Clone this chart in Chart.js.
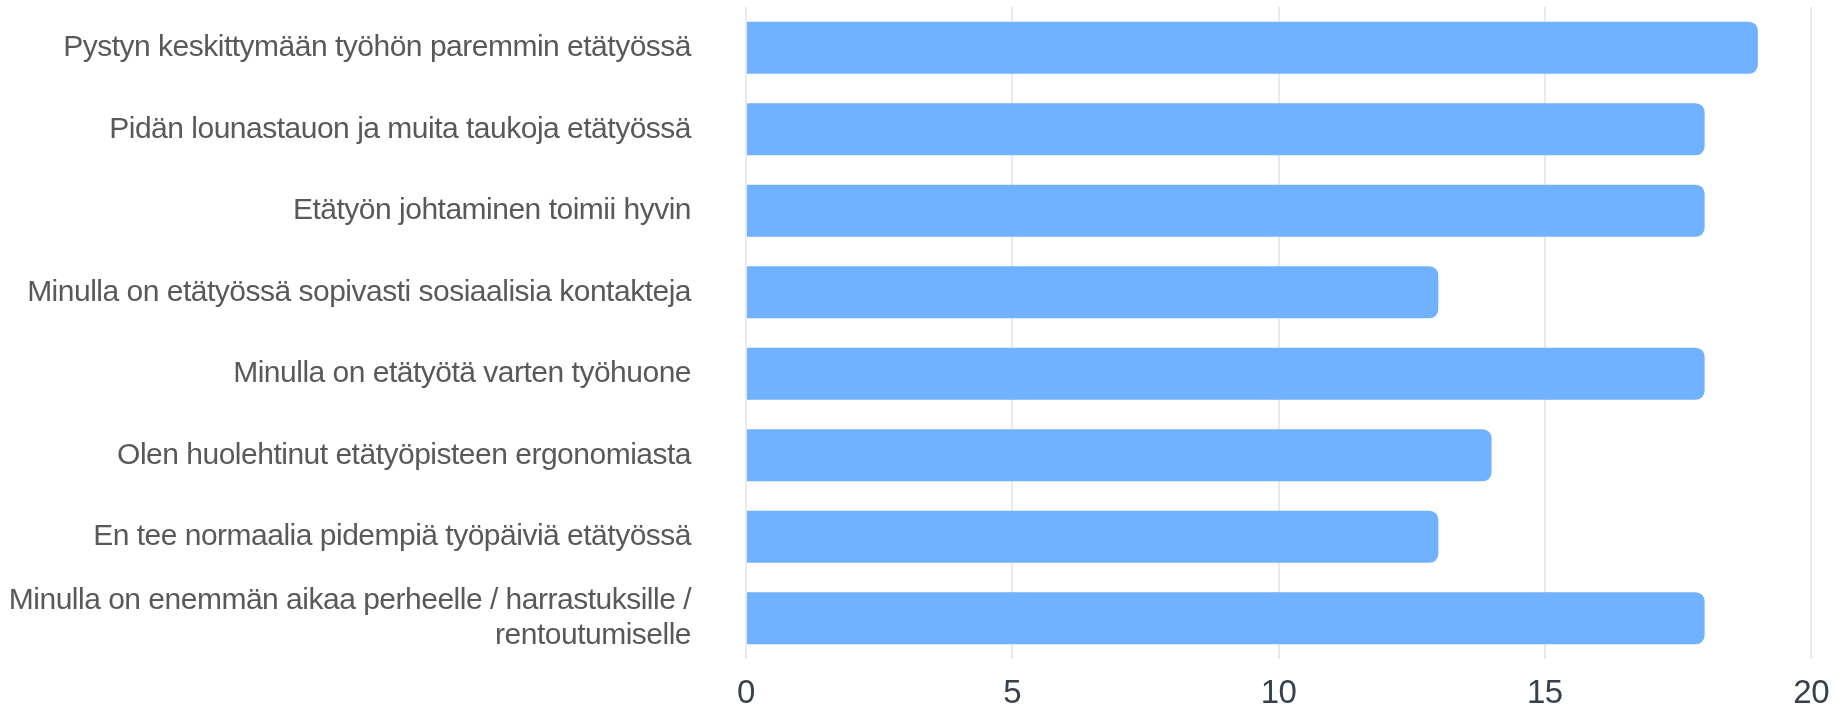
<!DOCTYPE html>
<html>
<head>
<meta charset="utf-8">
<script src="https://cdn.jsdelivr.net/npm/chart.js@4"></script>
<style>
  html, body { margin: 0; padding: 0; background: #fff; }
  #wrap { width: 1844px; height: 709px; position: relative; }
</style>
</head>
<body>
<div id="wrap"><canvas id="chart"></canvas></div>
<script>
// väittämät (y-akseli)
const labels = [
  'Pystyn keskittymään työhön paremmin etätyössä',
  'Pidän lounastauon ja muita taukoja etätyössä',
  'Etätyön johtaminen toimii hyvin',
  'Minulla on etätyössä sopivasti sosiaalisia kontakteja',
  'Minulla on etätyötä varten työhuone',
  'Olen huolehtinut etätyöpisteen ergonomiasta',
  'En tee normaalia pidempiä työpäiviä etätyössä',
  ['Minulla on enemmän aikaa perheelle / harrastuksille /', 'rentoutumiselle']
];
const counts = [19, 18, 18, 13, 18, 14, 13, 18];
const xTicks = [0, 5, 10, 15, 20];

const BAR_COLOR = '#70b2ff';

// tiiviimpi kirjainväli kuten alkuperäisessä
const tightText = {
  id: 'tightText',
  beforeLayout: c => { c.ctx.letterSpacing = '-0.5px'; },
  beforeDraw: c => { c.ctx.letterSpacing = '-0.5px'; }
};

new Chart(document.getElementById('chart'), {
  type: 'bar',
  data: {
    labels: labels,
    datasets: [{
      data: counts,
      backgroundColor: BAR_COLOR,
      borderRadius: 9,
      borderSkipped: 'start',
      barPercentage: 0.8,
      categoryPercentage: 0.8
    }]
  },
  plugins: [tightText],
  options: {
    indexAxis: 'y',
    responsive: true,
    maintainAspectRatio: false,
    animation: false,
    layout: { padding: { top: 7, right: 32, left: 0, bottom: 0 } },
    plugins: { legend: { display: false }, tooltip: { enabled: false } },
    scales: {
      x: {
        min: xTicks[0],
        max: xTicks[xTicks.length - 1],
        afterBuildTicks: s => { s.ticks = xTicks.map(v => ({ value: v })); },
        afterFit: s => { s.height = 50; },
        border: { display: false },
        grid: { color: '#e8eaec', lineWidth: 2, drawTicks: false },
        ticks: { padding: 15, color: '#37414b', font: { family: 'Liberation Sans, Arial', size: 33 } }
      },
      y: {
        afterFit: s => { s.width = 746; s.paddingTop = 0; s.paddingBottom = 0; },
        border: { display: false },
        grid: { color: 'rgba(0,0,0,0)', tickColor: 'rgba(0,0,0,0)', drawOnChartArea: false, drawTicks: true, tickLength: 55 },
        ticks: {
          padding: 0,
          color: '#595959',
          font: { family: 'Liberation Sans, Arial', size: 30, lineHeight: 1.17 }
        }
      }
    }
  }
});
</script>
</body>
</html>
